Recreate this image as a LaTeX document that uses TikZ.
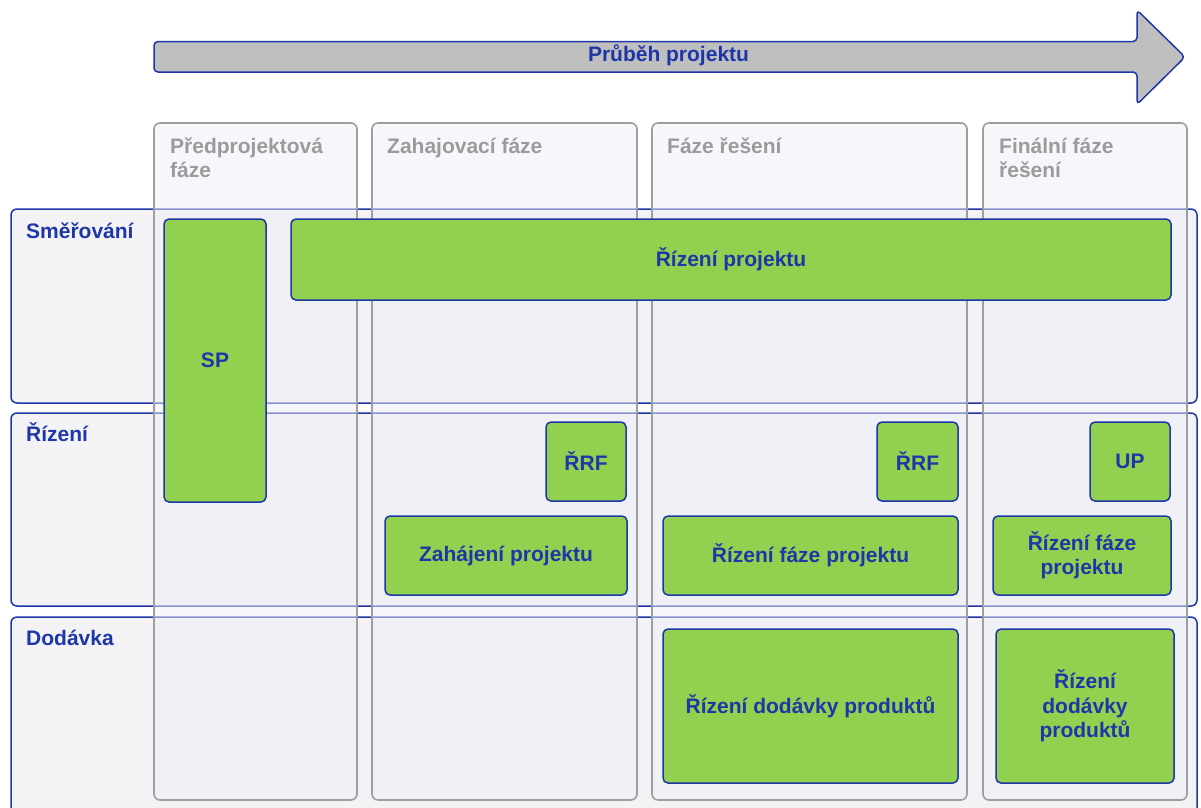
\documentclass[tikz,border=0pt]{standalone}
\usepackage{fontspec}
\setmainfont{Liberation Sans}
\definecolor{pblue}{HTML}{1E36A8}
\definecolor{pgreen}{HTML}{92D050}
\definecolor{pgrey}{HTML}{BFBFBF}
\definecolor{colline}{HTML}{9E9E9E}
\definecolor{coltext}{HTML}{9B9B9B}
\definecolor{colfill}{HTML}{EEF0F8}
\definecolor{rowfill}{HTML}{F3F3F5}
\begin{document}
\begin{tikzpicture}[x=1pt,y=-1pt,
  txt/.style={font=\fontsize{21}{24.5}\selectfont\bfseries},
  rowbox/.style={draw=pblue,line width=1.5pt,fill=rowfill,rounded corners=6pt,
    inner sep=0pt,outer sep=0pt,minimum width=1186pt},
  rowlabel/.style={txt,text=pblue,anchor=base west,inner sep=0pt},
  colbox/.style={draw=colline,line width=1.6pt,fill=colfill,fill opacity=0.5,
    draw opacity=1,rounded corners=6pt,inner sep=0pt,outer sep=0pt,minimum height=677pt},
  colhead/.style={txt,text=coltext,anchor=base west,inner sep=0pt,align=left},
  greenbox/.style={txt,text=pblue,draw=pblue,line width=1.5pt,fill=pgreen,
    rounded corners=5pt,inner sep=0pt,outer sep=0pt,align=center},
  flow/.style={draw=pblue,line width=1.5pt,fill=pgrey,rounded corners=4pt,line join=round}]
\useasboundingbox (0,0) rectangle (1201,807);
\clip (0,0) rectangle (1201,807);

% timeline arrow
\path[flow] (154,41.5) -- (1137,41.5) -- (1137,10) -- (1185,57) -- (1137,104.5)
  -- (1137,72) -- (154,72) -- cycle;
\node[txt,text=pblue,anchor=base,inner sep=0pt] (flowlabel) at (668.5,61.7) {Průběh projektu};

% process rows
\node[rowbox,minimum height=194pt] (rowS) at (604,306) {};
\node[rowbox,minimum height=193pt] (rowR) at (604,509.5) {};
\node[rowbox,minimum height=210pt] (rowD) at (604,722) {};
\node[rowlabel] (labS) at (26,238) {Směřování};
\node[rowlabel] (labR) at (26,441.5) {Řízení};
\node[rowlabel] (labD) at (26,645.5) {Dodávka};

% project phases (two-line headers are placed by their last baseline)
\node[colbox,minimum width=203pt] (col1) at (255.5,461.5) {};
\node[colbox,minimum width=265pt] (col2) at (504.5,461.5) {};
\node[colbox,minimum width=315pt] (col3) at (809.5,461.5) {};
\node[colbox,minimum width=204pt] (col4) at (1085,461.5) {};
\node[colhead] (head1) at (170,177.5) {Předprojektová\\fáze};
\node[colhead] (head2) at (387,153.3) {Zahajovací fáze};
\node[colhead] (head3) at (667,153.3) {Fáze řešení};
\node[colhead] (head4) at (999,177.5) {Finální fáze\\řešení};

% processes
\node[greenbox,minimum width=102pt,minimum height=283pt] (sp) at (215,360.5) {SP};
\node[greenbox,minimum width=880pt,minimum height=81pt] (rp) at (731,259.5) {Řízení projektu};
\node[greenbox,minimum width=80pt,minimum height=79pt] (rrf1) at (586,461.5) {ŘRF};
\node[greenbox,minimum width=81pt,minimum height=79pt] (rrf2) at (917.5,461.5) {ŘRF};
\node[greenbox,minimum width=80pt,minimum height=79pt] (up) at (1130,461.5) {UP};
\node[greenbox,minimum width=242pt,minimum height=79pt] (zp) at (506,555.5) {Zahájení projektu};
\node[greenbox,minimum width=295pt,minimum height=79pt] (rfp1) at (810.5,555.5) {Řízení fáze projektu};
\node[greenbox,minimum width=178pt,minimum height=79pt] (rfp2) at (1082,555.5) {Řízení fáze\\projektu};
\node[greenbox,minimum width=295pt,minimum height=154pt] (rdp1) at (810.5,706) {Řízení dodávky produktů};
\node[greenbox,minimum width=178pt,minimum height=154pt] (rdp2) at (1085,706) {Řízení\\dodávky\\produktů};
\end{tikzpicture}
\end{document}
